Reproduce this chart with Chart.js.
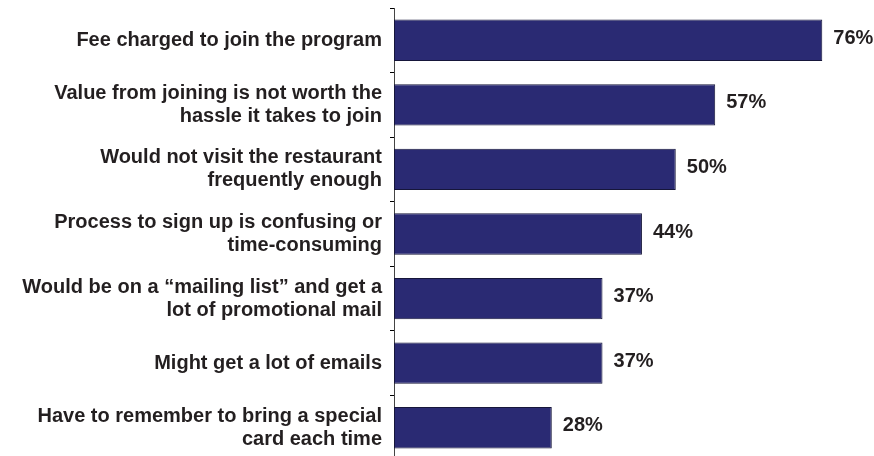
<!DOCTYPE html>
<html lang="en">
  <head>
    <meta charset="UTF-8" />
    <title>Reasons for not joining</title>
    <style>
      html, body { margin: 0; padding: 0; background: #fff; overflow: hidden; }
      #wrap { width: 874px; height: 460px; }
    </style>
  </head>
  <body>
    <div id="wrap"><canvas id="chart"></canvas></div>
    <script src="https://cdn.jsdelivr.net/npm/chart.js"></script>
    <script>
      const reasons = [
        ['Fee charged to join the program'],
        ['Value from joining is not worth the', 'hassle it takes to join'],
        ['Would not visit the restaurant', 'frequently enough'],
        ['Process to sign up is confusing or', 'time-consuming'],
        ['Would be on a \u201cmailing list\u201d and get a', 'lot of promotional mail'],
        ['Might get a lot of emails'],
        ['Have to remember to bring a special', 'card each time']
      ];
      const percents = [76, 57, 50, 44, 37, 37, 28];

      const fontFamily = "'Liberation Sans', Arial, sans-serif";

      // percentage printed just past the end of each bar
      const valueLabels = {
        id: 'valueLabels',
        afterDatasetsDraw(chart) {
          const ctx = chart.ctx;
          const meta = chart.getDatasetMeta(0);
          ctx.save();
          ctx.font = 'bold 20px ' + fontFamily;
          ctx.fillStyle = '#231f20';
          ctx.textAlign = 'left';
          ctx.textBaseline = 'middle';
          meta.data.forEach(function (bar, i) {
            ctx.fillText(percents[i] + '%', bar.x + 11, bar.y - 2);
          });
          ctx.restore();
        }
      };

      new Chart(document.getElementById('chart'), {
        type: 'bar',
        data: {
          labels: reasons,
          datasets: [
            {
              data: percents,
              backgroundColor: '#2a2a73',
              borderColor: '#16163a',
              borderWidth: 1,
              borderSkipped: false,
              categoryPercentage: 0.8,
              barPercentage: 0.8
            }
          ]
        },
        options: {
          indexAxis: 'y',
          responsive: true,
          maintainAspectRatio: false,
          animation: false,
          layout: { padding: { top: 8, right: 1, bottom: 0, left: 0 } },
          plugins: {
            legend: { display: false },
            tooltip: { enabled: false }
          },
          scales: {
            x: {
              display: false,
              min: 0,
              max: 85
            },
            y: {
              afterFit(scale) {
                scale.width = 394;
                // labels sit inside their bands, no extra room needed above/below
                scale.paddingTop = 0;
                scale.paddingBottom = 0;
              },
              border: { display: true, color: '#444', width: 1 },
              grid: {
                offset: true,
                drawOnChartArea: false,
                drawTicks: true,
                tickLength: 4,
                color: '#000'
              },
              ticks: {
                padding: 8,
                color: '#231f20',
                font: { family: fontFamily, size: 20, weight: 'bold', lineHeight: 1.15 }
              }
            }
          }
        },
        plugins: [valueLabels]
      });
    </script>
  </body>
</html>
